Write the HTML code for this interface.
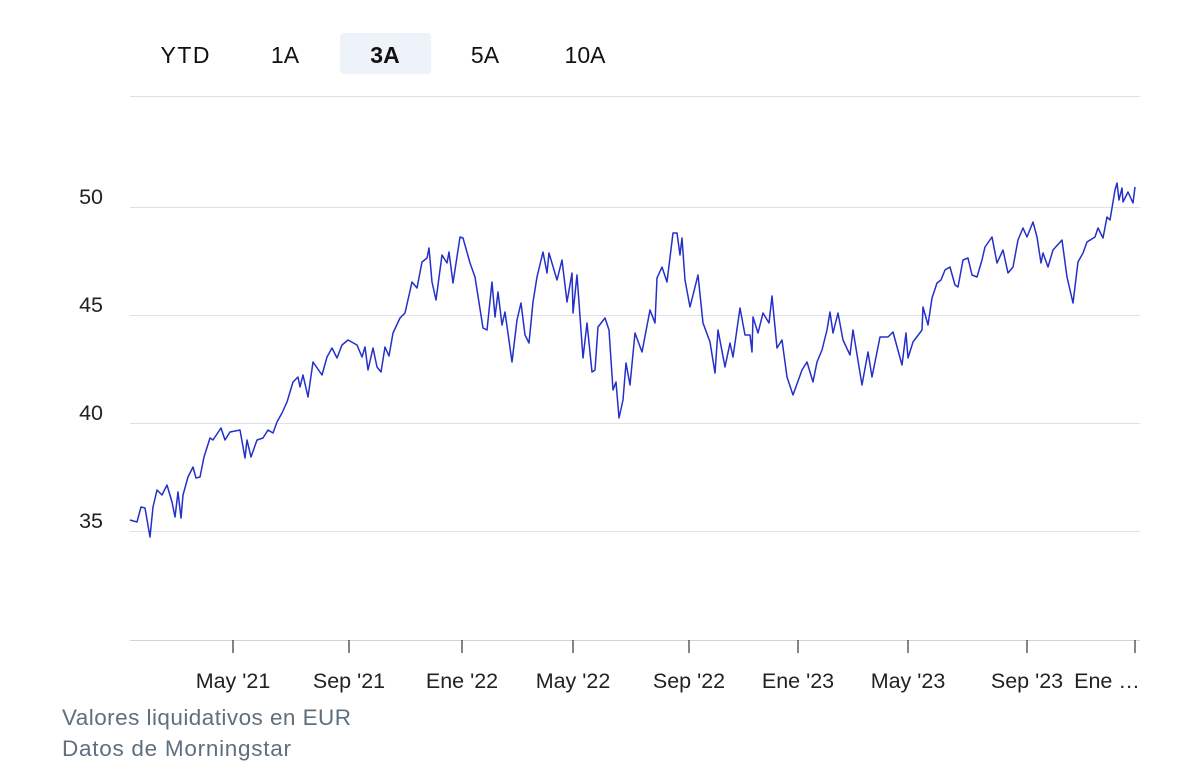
<!DOCTYPE html>
<html><head><meta charset="utf-8"><style>
body{margin:0;background:#fff;width:1200px;height:769px;overflow:hidden;font-family:"Liberation Sans",sans-serif}
svg{position:absolute;left:0;top:0}
</style></head><body>
<svg width="1200" height="769" viewBox="0 0 1200 769">
<rect x="340" y="33" width="91" height="41" rx="4" fill="#eef2f9"/>
<g font-size="23" fill="#111" text-anchor="middle">
<text x="185" y="63" textLength="49">YTD</text><text x="285" y="63">1A</text>
<text x="385" y="63" font-weight="bold">3A</text><text x="485" y="63">5A</text><text x="585" y="63">10A</text>
</g>
<g stroke="#dde0e6" stroke-width="1">
<line x1="130" x2="1140" y1="96.5" y2="96.5"/>
<line x1="130" x2="1140" y1="207.5" y2="207.5"/>
<line x1="130" x2="1140" y1="315.5" y2="315.5"/>
<line x1="130" x2="1140" y1="423.5" y2="423.5"/>
<line x1="130" x2="1140" y1="531.5" y2="531.5"/>
<line x1="130" x2="1140" y1="640.5" y2="640.5" stroke="#cfd4dc"/>
</g>
<g font-size="21.5" fill="#222" text-anchor="end">
<text x="103" y="204">50</text><text x="103" y="312">45</text><text x="103" y="420">40</text><text x="103" y="528">35</text>
</g>
<g stroke="#333" stroke-width="1.2">
<line x1="233" x2="233" y1="640" y2="653"/><line x1="349" x2="349" y1="640" y2="653"/>
<line x1="462" x2="462" y1="640" y2="653"/><line x1="573" x2="573" y1="640" y2="653"/>
<line x1="689" x2="689" y1="640" y2="653"/><line x1="798" x2="798" y1="640" y2="653"/>
<line x1="908" x2="908" y1="640" y2="653"/><line x1="1027" x2="1027" y1="640" y2="653"/>
<line x1="1135" x2="1135" y1="640" y2="653"/>
</g>
<g font-size="21.5" fill="#222" text-anchor="middle">
<text x="233" y="688">May '21</text><text x="349" y="688">Sep '21</text><text x="462" y="688">Ene '22</text>
<text x="573" y="688">May '22</text><text x="689" y="688">Sep '22</text><text x="798" y="688">Ene '23</text>
<text x="908" y="688">May '23</text><text x="1027" y="688">Sep '23</text><text x="1107" y="688">Ene …</text>
</g>
<g font-size="22.5" fill="#5f6f7e">
<text x="62" y="725" textLength="289">Valores liquidativos en EUR</text>
<text x="62" y="756" textLength="229">Datos de Morningstar</text>
</g>
<polyline fill="none" stroke="#2430c8" stroke-width="1.5" stroke-linejoin="round" points="130,520 137,522 141,507 145,508 150,537 153,507 157,490 162,495 167,485 172,502 175,517 178,492 181,518 183,495 188,477 193,467 196,478 200,477 204,457 210,438 213,440 221,428 225,440 230,432 240,430 245,458 247,440 251,457 257,440 263,438 268,430 273,433 277,422 282,413 287,402 293,382 298,377 300,387 303,375 308,397 313,362 322,375 327,357 332,348 337,358 342,345 348,340 357,345 362,357 365,347 368,370 373,348 377,367 381,372 385,347 389,356 393,333 400,318 405,313 412,282 417,288 422,262 427,258 429,248 432,282 436,300 442,255 447,263 449,252 453,283 460,237 463,238 470,263 475,277 483,328 487,330 492,282 495,317 498,292 502,325 505,312 512,362 517,320 521,303 525,335 529,343 533,302 537,277 543,252 547,273 549,253 557,280 562,260 567,302 572,273 573,313 577,275 583,358 587,323 592,372 595,370 598,327 605,318 609,330 613,390 616,382 619,418 623,400 626,363 630,385 635,333 642,352 650,310 655,323 657,278 662,267 667,282 673,233 677,233 680,255 682,238 685,280 690,307 698,275 703,323 710,342 715,373 718,330 725,367 730,343 733,357 740,308 745,335 750,335 752,352 753,317 758,333 763,313 769,323 772,296 777,348 782,340 787,377 793,395 802,370 807,362 813,382 817,362 822,350 827,330 830,312 833,333 838,313 843,340 850,355 853,330 862,385 868,352 872,377 880,337 888,337 893,332 902,365 906,333 908,358 913,342 922,330 923,307 928,325 932,298 937,283 941,280 945,270 950,267 955,285 958,287 963,260 968,258 972,275 977,277 982,260 985,247 992,237 997,263 1003,250 1008,273 1013,267 1018,240 1023,228 1027,237 1033,222 1037,237 1041,263 1043,253 1048,267 1053,250 1062,240 1067,277 1073,303 1078,262 1083,253 1087,242 1095,237 1098,228 1103,238 1107,217 1110,220 1115,190 1117,183 1119,200 1122,188 1123,202 1128,192 1133,203 1135,187"/>
</svg>
</body></html>
